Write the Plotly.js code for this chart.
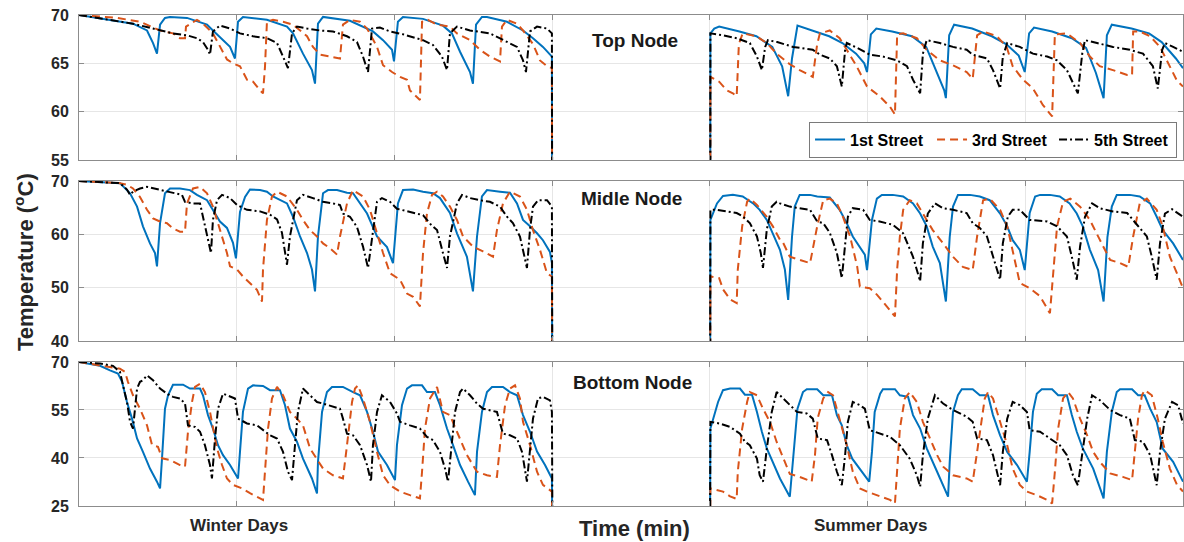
<!DOCTYPE html>
<html><head><meta charset="utf-8">
<script src="https://cdn.plot.ly/plotly-3.0.1.min.js"></script>
<style>html,body{margin:0;padding:0;background:#fff}#chart{width:1184px;height:542px}</style>
</head><body><div id="chart"></div>
<script>
// ---- data: [time (min), temperature (°C)] ----
const streets = ['1st Street','3rd Street','5th Street'];
const nodes = ['Top Node','Midle Node','Bottom Node'];
const periods = ['Winter Days','Summer Days'];
const yTicks = [[55,60,65,70],[40,50,60,70],[25,40,55,70]];

const topBlueWinter = [[0,70],[493,69.1],[621,68.4],[676,67.1],[712,66.0],[740,69.0],[785,69.7],[831,69.8],[986,69.7],[1169,69.0],[1223,68.4],[1287,67.7],[1379,66.7],[1424,65.5],[1452,69.3],[1497,69.8],[1716,69.5],[1899,68.8],[1954,68.1],[2045,66.0],[2127,64.3],[2155,62.9],[2182,69.1],[2228,69.8],[2474,69.4],[2684,68.3],[2776,67.4],[2858,66.4],[2876,65.2],[2912,69.3],[2958,69.8],[3141,69.6],[3323,68.9],[3405,68.1],[3479,66.2],[3570,64.1],[3597,62.9],[3625,69.0],[3679,69.8],[3725,69.8],[3908,69.3],[4054,68.4],[4145,67.6],[4236,66.7],[4318,65.7],[4325,0]];
const topBlueSummer = [[5760,0],[5765,68.1],[5800,68.6],[5845,68.8],[6030,68.3],[6185,67.8],[6330,66.7],[6420,64.7],[6475,61.6],[6510,65.5],[6560,68.9],[6695,68.4],[6850,67.8],[6970,67.1],[7095,66.0],[7170,65.0],[7195,64.1],[7230,68.0],[7280,68.6],[7425,68.3],[7605,67.8],[7735,66.7],[7825,64.3],[7900,62.2],[7915,61.4],[7945,67.9],[7990,69.0],[8155,68.6],[8335,67.8],[8465,67.0],[8580,65.8],[8635,64.1],[8675,68.1],[8720,68.7],[8885,68.3],[9065,67.6],[9195,66.6],[9285,64.0],[9355,61.4],[9385,67.9],[9430,69.0],[9610,68.6],[9770,68.1],[9885,67.2],[10015,65.5],[10080,64.5]];
const topOrangeWinter = [[0,70],[347,69.7],[557,69.3],[740,68.4],[858,68.1],[922,67.6],[968,67.6],[977,68.8],[1077,69.5],[1132,69.1],[1223,68.1],[1287,66.7],[1351,65.4],[1406,65.0],[1470,64.7],[1534,63.3],[1589,63.1],[1653,62.2],[1680,61.9],[1698,64.6],[1716,69.3],[1771,69.5],[1863,69.3],[1954,69.0],[2018,68.4],[2082,67.8],[2136,66.7],[2200,65.9],[2292,65.7],[2383,65.5],[2410,69.0],[2474,69.5],[2566,69.3],[2630,68.6],[2721,66.7],[2776,64.8],[2858,64.1],[2931,63.6],[2995,63.3],[3022,62.2],[3113,61.2],[3132,69.3],[3186,69.5],[3269,69.0],[3387,68.8],[3451,68.1],[3570,67.4],[3661,66.4],[3752,65.7],[3844,65.2],[3862,68.8],[3908,69.5],[3999,69.1],[4054,68.4],[4145,67.0],[4209,65.3],[4273,64.7],[4318,64.5],[4325,0]];
const topOrangeSummer = [[5760,0],[5765,63.6],[5845,63.1],[5915,62.2],[5970,61.9],[6005,61.6],[6025,67.0],[6060,68.1],[6185,67.8],[6280,67.1],[6370,66.0],[6400,65.7],[6490,64.9],[6580,64.3],[6700,63.6],[6740,67.0],[6765,68.1],[6855,68.4],[6945,67.6],[7010,66.4],[7100,64.7],[7195,62.6],[7310,61.6],[7405,60.5],[7450,59.7],[7470,68.0],[7525,68.1],[7650,67.6],[7740,66.4],[7860,65.3],[7980,64.8],[8105,64.1],[8160,63.4],[8200,67.9],[8255,68.3],[8380,67.8],[8470,66.7],[8525,64.7],[8620,63.3],[8710,62.4],[8800,60.7],[8885,59.5],[8910,68.0],[9020,68.1],[9140,67.1],[9230,65.7],[9320,64.7],[9440,64.3],[9570,63.8],[9615,63.8],[9625,68.3],[9685,68.3],[9780,67.8],[9870,66.7],[9935,65.2],[10025,63.2],[10080,62.6]];
const topBlackWinter = [[0,70],[493,69.1],[676,68.6],[858,68.1],[986,67.9],[1077,67.6],[1132,67.2],[1178,66.4],[1196,65.9],[1223,68.3],[1287,68.9],[1379,68.6],[1470,68.1],[1589,67.8],[1716,67.6],[1808,67.1],[1863,65.7],[1908,64.5],[1945,68.1],[1990,68.8],[2082,68.6],[2200,68.4],[2319,68.3],[2447,67.8],[2538,67.2],[2593,65.7],[2639,64.1],[2675,68.6],[2748,68.7],[2840,68.3],[2958,68.0],[3141,67.4],[3232,66.9],[3314,65.7],[3360,64.3],[3387,68.1],[3451,68.8],[3570,68.4],[3752,68.1],[3871,67.4],[3999,66.7],[4054,65.3],[4081,64.1],[4118,68.3],[4182,68.8],[4273,68.6],[4318,68.1],[4325,0]];
const topBlackSummer = [[5760,0],[5765,68.1],[5880,67.9],[6005,67.6],[6125,67.1],[6190,65.7],[6235,64.3],[6265,66.7],[6290,67.4],[6375,67.2],[6520,66.7],[6700,66.4],[6765,65.9],[6855,65.5],[6920,64.7],[6965,62.6],[6995,66.4],[7010,67.1],[7105,66.6],[7220,65.9],[7340,65.7],[7470,65.3],[7560,64.7],[7615,63.3],[7680,61.9],[7705,66.0],[7740,67.4],[7860,67.1],[7980,66.7],[8105,66.4],[8160,65.9],[8290,65.5],[8345,64.3],[8410,62.4],[8435,65.7],[8475,67.1],[8590,66.7],[8710,66.0],[8840,65.7],[8930,65.3],[9020,64.3],[9075,62.9],[9120,61.9],[9160,66.0],[9185,67.4],[9295,67.1],[9440,66.7],[9595,66.4],[9715,66.0],[9805,64.7],[9850,62.4],[9890,66.4],[9915,67.1],[9990,66.7],[10080,66.2]];

const midBlueWinter = [[0,70],[374,69.6],[466,67.7],[530,65.2],[584,61.5],[648,58.3],[694,56.5],[712,54.0],[740,62.1],[785,67.7],[831,68.6],[922,68.6],[1013,68.3],[1077,67.4],[1169,66.4],[1223,64.6],[1287,62.4],[1351,61.2],[1406,58.4],[1433,55.5],[1470,64.2],[1516,67.0],[1561,68.4],[1653,68.3],[1716,68.0],[1771,67.1],[1899,65.8],[1954,63.3],[2018,59.6],[2082,56.5],[2127,53.4],[2155,49.3],[2182,59.6],[2228,67.7],[2273,68.3],[2356,68.3],[2447,67.8],[2502,67.7],[2566,65.8],[2630,63.9],[2721,59.6],[2812,57.6],[2867,54.6],[2912,65.8],[2958,68.3],[3050,68.4],[3141,68.0],[3232,67.7],[3296,66.8],[3387,64.0],[3451,60.2],[3542,55.8],[3597,49.3],[3634,59.6],[3679,67.1],[3725,68.3],[3844,68.0],[3935,67.8],[3999,65.8],[4054,62.7],[4118,61.5],[4182,60.2],[4236,58.9],[4300,56.7],[4318,54.6],[4325,0]];
const midBlueSummer = [[5760,0],[5765,62.7],[5825,65.8],[5880,67.2],[5970,67.4],[6060,67.1],[6155,65.8],[6215,64.6],[6280,62.7],[6335,60.2],[6400,57.1],[6445,53.4],[6475,47.7],[6510,59.5],[6535,65.2],[6580,67.4],[6675,67.4],[6740,67.1],[6855,66.9],[6945,64.6],[7010,62.1],[7065,59.6],[7130,57.7],[7175,56.2],[7195,53.3],[7240,62.7],[7285,66.7],[7330,67.4],[7430,67.4],[7525,67.1],[7615,65.8],[7680,63.9],[7740,61.5],[7795,57.7],[7860,54.6],[7915,47.4],[7950,59.5],[7980,65.2],[8025,67.4],[8135,67.4],[8225,67.1],[8315,66.4],[8410,63.9],[8475,61.5],[8525,58.9],[8590,57.1],[8635,53.3],[8680,64.0],[8730,67.1],[8775,67.4],[8865,67.4],[8955,67.1],[9045,65.8],[9110,63.9],[9165,61.5],[9230,57.1],[9305,53.3],[9355,47.4],[9390,59.5],[9430,65.2],[9475,67.4],[9595,67.4],[9685,67.1],[9780,65.8],[9840,63.3],[9895,60.8],[9990,58.3],[10080,55.2]];
const midOrangeWinter = [[0,70],[374,69.6],[438,69.3],[493,68.6],[557,67.0],[621,64.6],[676,63.0],[740,62.4],[803,62.1],[858,61.1],[922,60.5],[968,60.5],[986,65.8],[1041,68.6],[1105,68.9],[1169,67.7],[1223,65.2],[1287,60.8],[1351,56.5],[1379,54.0],[1443,53.4],[1497,52.1],[1561,50.9],[1625,49.6],[1671,47.4],[1680,53.4],[1716,62.7],[1762,67.1],[1808,68.0],[1899,67.1],[1990,64.6],[2045,62.7],[2109,60.8],[2173,59.6],[2228,58.3],[2292,57.4],[2356,56.2],[2383,59.6],[2447,65.8],[2502,68.3],[2593,67.1],[2657,64.6],[2721,60.2],[2776,56.5],[2840,52.7],[2931,51.5],[2995,48.9],[3050,48.3],[3113,46.5],[3141,56.5],[3177,63.9],[3223,67.4],[3269,68.0],[3323,67.1],[3387,65.2],[3451,62.7],[3506,59.6],[3597,57.7],[3689,56.8],[3780,55.8],[3816,60.8],[3871,65.8],[3935,68.0],[4026,67.1],[4090,64.6],[4145,60.8],[4209,57.1],[4273,52.7],[4318,52.1],[4325,0]];
const midOrangeSummer = [[5760,0],[5765,52.1],[5845,51.8],[5880,49.7],[5945,47.8],[6005,47.1],[6015,53.4],[6055,61.5],[6100,66.1],[6125,66.7],[6190,65.5],[6280,63.3],[6335,61.5],[6400,59.0],[6425,58.6],[6490,55.8],[6580,55.2],[6675,54.6],[6740,61.5],[6795,66.4],[6855,66.7],[6920,65.8],[6975,63.3],[7040,59.6],[7105,54.0],[7130,50.2],[7220,49.9],[7285,48.7],[7375,46.5],[7450,44.6],[7470,53.4],[7495,59.6],[7525,64.6],[7585,66.4],[7650,65.8],[7705,63.9],[7795,60.8],[7890,58.3],[7980,55.8],[8070,53.9],[8160,53.3],[8200,59.6],[8255,66.4],[8315,66.7],[8410,64.6],[8475,61.5],[8525,57.1],[8590,50.9],[8680,49.9],[8775,48.4],[8865,45.2],[8895,53.4],[8930,61.5],[8985,66.1],[9050,66.7],[9140,65.2],[9230,62.7],[9320,59.0],[9415,55.2],[9505,54.6],[9580,53.9],[9625,59.6],[9685,65.8],[9750,66.7],[9840,64.6],[9895,61.5],[9960,55.8],[10025,52.7],[10080,49.9]];
const midBlackWinter = [[0,70],[374,69.6],[438,68.4],[466,67.4],[493,68.0],[557,68.6],[621,68.9],[740,68.3],[858,67.7],[940,67.4],[968,66.1],[1041,65.8],[1105,65.8],[1132,63.3],[1178,59.6],[1205,56.5],[1223,62.7],[1260,66.4],[1306,67.4],[1379,66.8],[1443,65.5],[1534,64.6],[1653,64.3],[1744,63.7],[1808,62.8],[1853,60.3],[1899,54.3],[1926,59.6],[1990,66.4],[2045,67.4],[2136,66.8],[2228,66.1],[2319,65.8],[2383,65.5],[2410,63.9],[2474,63.3],[2538,61.4],[2593,57.7],[2639,53.7],[2675,59.6],[2721,66.1],[2766,66.8],[2840,66.1],[2903,64.8],[3022,64.2],[3141,63.6],[3205,62.0],[3269,60.8],[3323,56.5],[3360,53.7],[3387,59.6],[3451,65.8],[3497,67.4],[3570,66.8],[3661,66.4],[3752,66.1],[3844,65.2],[3908,63.3],[3962,62.1],[4026,59.6],[4090,53.7],[4118,60.9],[4145,65.2],[4191,66.4],[4273,66.4],[4318,65.2],[4325,0]];
const midBlackSummer = [[5760,0],[5765,64.6],[5825,64.6],[5915,64.3],[6005,64.0],[6060,63.4],[6125,62.1],[6190,59.6],[6225,56.5],[6245,53.7],[6280,60.9],[6325,65.2],[6370,66.1],[6400,65.8],[6490,65.2],[6580,64.9],[6675,64.6],[6740,62.4],[6795,62.1],[6855,60.3],[6920,56.5],[6965,51.8],[6995,58.3],[7020,63.3],[7065,64.9],[7160,64.6],[7220,62.7],[7310,62.4],[7430,61.8],[7525,60.2],[7615,55.8],[7680,51.2],[7705,58.3],[7750,63.9],[7815,65.8],[7890,64.9],[7980,64.6],[8105,64.0],[8160,62.1],[8225,61.2],[8290,59.6],[8345,55.8],[8410,51.5],[8435,58.3],[8480,63.3],[8525,64.6],[8590,64.6],[8680,62.7],[8840,62.4],[8930,61.5],[9020,59.6],[9065,55.8],[9110,51.5],[9140,57.7],[9185,63.3],[9250,65.8],[9320,64.9],[9440,64.3],[9570,64.0],[9660,61.8],[9750,59.6],[9795,55.8],[9840,51.5],[9870,58.3],[9915,63.9],[9980,64.7],[10080,63.3]];

const botBlueWinter = [[0,70],[192,68.8],[283,67.4],[356,66.4],[393,63.8],[438,57.5],[484,52.3],[530,46.1],[584,41.9],[648,36.7],[712,32.6],[740,30.5],[758,39.9],[785,55.4],[813,59.6],[858,62.9],[950,62.9],[1013,61.7],[1105,61.7],[1132,59.6],[1178,53.4],[1223,49.2],[1269,44.0],[1315,40.9],[1379,37.8],[1452,33.6],[1470,42.0],[1497,54.4],[1543,61.7],[1589,62.7],[1680,62.5],[1744,61.2],[1835,61.2],[1881,56.5],[1926,49.2],[1990,45.1],[2045,39.8],[2127,33.6],[2173,28.9],[2182,38.8],[2219,54.4],[2264,60.6],[2310,62.2],[2410,62.2],[2502,60.6],[2566,59.6],[2630,54.4],[2684,48.2],[2730,42.0],[2812,37.8],[2885,33.1],[2903,44.0],[2949,56.5],[2995,61.7],[3040,62.7],[3132,62.7],[3177,60.6],[3250,60.6],[3296,56.5],[3360,49.2],[3415,44.0],[3479,37.8],[3552,32.6],[3615,28.4],[3634,41.9],[3679,54.4],[3725,60.6],[3771,62.2],[3871,62.2],[3935,60.6],[3999,59.6],[4054,53.4],[4118,48.2],[4182,42.0],[4255,37.8],[4318,33.6],[4325,0]];
const botBlueSummer = [[5760,0],[5765,49.2],[5835,57.5],[5880,61.2],[5945,61.7],[6035,61.7],[6080,59.8],[6145,59.8],[6190,54.4],[6235,48.2],[6280,43.0],[6335,38.8],[6400,33.6],[6490,27.9],[6520,38.8],[6560,55.4],[6610,60.6],[6645,61.5],[6740,61.5],[6795,59.6],[6875,59.6],[6920,53.4],[6965,50.2],[7010,44.0],[7060,39.8],[7130,36.7],[7215,32.6],[7240,41.9],[7265,54.4],[7315,60.1],[7340,61.5],[7450,61.5],[7495,59.6],[7570,59.1],[7615,53.4],[7680,49.2],[7740,43.0],[7835,35.7],[7935,27.9],[7950,38.8],[7980,54.4],[8025,59.6],[8060,61.5],[8160,61.5],[8225,59.6],[8300,59.6],[8345,53.4],[8410,47.1],[8475,41.9],[8565,37.8],[8655,32.6],[8680,41.9],[8710,54.4],[8745,60.1],[8790,61.5],[8885,61.5],[8940,59.6],[9020,59.6],[9065,53.4],[9110,48.2],[9165,43.0],[9260,36.7],[9355,27.4],[9385,41.9],[9430,54.4],[9475,60.6],[9505,61.5],[9615,61.5],[9670,59.6],[9730,59.6],[9780,55.4],[9840,51.2],[9895,42.9],[9990,38.8],[10080,32.6]];
const botOrangeWinter = [[0,70],[192,69.0],[310,68.4],[374,67.9],[420,66.9],[447,63.8],[493,59.6],[557,55.4],[621,50.2],[667,44.0],[721,43.5],[758,39.9],[831,39.4],[922,37.8],[968,37.3],[995,48.2],[1032,57.5],[1059,62.2],[1105,63.2],[1150,60.6],[1196,54.4],[1260,43.0],[1306,37.8],[1351,33.6],[1406,31.6],[1488,30.5],[1561,29.0],[1680,26.9],[1698,35.7],[1726,49.2],[1762,58.6],[1808,62.2],[1863,59.6],[1926,54.4],[1990,52.3],[2045,50.2],[2109,43.0],[2173,39.8],[2228,36.7],[2319,34.6],[2410,33.6],[2447,44.0],[2493,57.5],[2520,61.7],[2547,62.7],[2593,58.6],[2657,51.3],[2721,41.9],[2776,34.6],[2840,31.5],[2931,29.5],[3022,28.4],[3113,27.4],[3132,35.7],[3159,49.2],[3205,58.6],[3269,62.2],[3323,54.4],[3387,53.4],[3451,48.2],[3542,40.9],[3634,35.7],[3725,34.6],[3816,34.1],[3844,44.0],[3890,56.5],[3935,61.7],[3981,62.7],[4026,58.6],[4054,51.3],[4118,44.0],[4182,35.7],[4236,31.6],[4318,29.5],[4325,0]];
const botOrangeSummer = [[5760,0],[5765,30.5],[5880,29.5],[5945,28.0],[6005,27.2],[6015,35.7],[6055,49.2],[6100,57.5],[6125,60.6],[6190,59.6],[6245,55.4],[6310,51.2],[6370,45.0],[6430,40.0],[6490,35.0],[6580,34.1],[6690,32.6],[6720,41.0],[6745,52.5],[6795,58.6],[6840,60.6],[6885,59.6],[6950,51.3],[7010,44.0],[7065,35.7],[7130,30.5],[7195,29.5],[7285,28.4],[7405,26.9],[7450,25.8],[7470,35.7],[7495,49.2],[7540,58.6],[7585,60.6],[7650,57.5],[7705,51.3],[7770,46.1],[7835,40.9],[7890,37.3],[7980,34.6],[8105,33.6],[8160,32.6],[8200,41.9],[8245,52.3],[8270,58.6],[8300,60.6],[8345,58.6],[8410,51.3],[8475,44.0],[8525,36.7],[8590,31.6],[8655,29.5],[8745,28.4],[8840,26.9],[8885,25.8],[8910,35.7],[8940,49.2],[8985,58.6],[9030,60.6],[9075,58.6],[9140,52.3],[9205,47.1],[9260,41.9],[9320,38.8],[9415,35.2],[9530,34.1],[9615,33.1],[9640,41.9],[9670,52.3],[9705,59.6],[9730,61.2],[9795,59.6],[9850,52.3],[9895,45.1],[9960,36.7],[10025,31.6],[10080,29.5]];
const botBlackWinter = [[0,70],[192,69.5],[310,68.8],[374,66.9],[402,62.7],[438,57.5],[466,51.3],[493,49.2],[530,61.7],[557,63.8],[584,64.3],[621,65.8],[676,64.3],[740,61.7],[803,60.1],[858,59.1],[922,58.6],[968,57.0],[995,50.2],[1059,49.7],[1105,48.2],[1150,44.0],[1196,37.8],[1214,33.6],[1242,46.1],[1269,55.4],[1315,60.1],[1379,59.1],[1424,58.6],[1452,52.3],[1534,50.8],[1625,50.2],[1680,48.7],[1744,47.1],[1808,46.1],[1863,41.9],[1908,35.7],[1945,33.1],[1972,44.0],[1999,54.4],[2045,61.7],[2109,59.6],[2173,57.5],[2228,57.0],[2319,56.0],[2383,55.4],[2410,52.3],[2447,47.6],[2502,47.1],[2566,44.0],[2630,37.8],[2666,32.6],[2684,44.0],[2721,54.4],[2766,59.6],[2840,57.5],[2903,53.9],[2931,51.3],[3022,50.2],[3113,49.2],[3177,46.6],[3232,45.6],[3296,41.9],[3342,36.7],[3369,32.6],[3405,44.0],[3433,54.4],[3479,60.6],[3506,61.7],[3570,59.6],[3634,57.0],[3689,55.4],[3752,54.9],[3816,54.4],[3871,47.6],[3935,47.1],[3999,46.1],[4045,41.9],[4090,32.6],[4118,41.9],[4145,52.3],[4191,58.6],[4236,59.1],[4300,58.0],[4318,54.4],[4325,0]];
const botBlackSummer = [[5760,0],[5765,51.3],[5845,50.8],[5945,49.7],[6035,47.6],[6080,45.1],[6125,44.0],[6190,39.8],[6215,34.6],[6245,32.6],[6280,42.9],[6325,54.4],[6370,60.6],[6430,58.6],[6490,56.5],[6555,54.4],[6645,53.9],[6700,52.3],[6745,46.1],[6830,45.6],[6875,40.9],[6920,35.7],[6965,31.5],[6995,40.9],[7020,51.3],[7065,57.5],[7130,56.5],[7175,55.4],[7220,48.7],[7310,47.6],[7405,46.6],[7495,44.0],[7585,39.8],[7650,34.6],[7680,31.0],[7705,40.9],[7750,52.3],[7815,59.6],[7890,57.0],[7980,55.0],[8105,52.9],[8160,51.3],[8200,46.1],[8290,45.6],[8345,40.9],[8410,31.5],[8435,41.9],[8475,52.3],[8525,57.5],[8590,56.5],[8655,54.4],[8680,48.7],[8775,48.2],[8865,46.1],[8955,44.0],[9020,40.9],[9075,34.6],[9120,31.5],[9160,40.9],[9205,52.3],[9250,59.6],[9320,58.1],[9415,55.0],[9505,53.4],[9595,52.3],[9640,45.6],[9715,45.1],[9780,40.9],[9840,31.5],[9870,41.9],[9915,52.3],[9980,57.5],[10035,56.5],[10080,50.8]];

// ---- chart ----
const panels = [
  [[topBlueWinter, topBlueSummer], [topOrangeWinter, topOrangeSummer], [topBlackWinter, topBlackSummer]],
  [[midBlueWinter, midBlueSummer], [midOrangeWinter, midOrangeSummer], [midBlackWinter, midBlackSummer]],
  [[botBlueWinter, botBlueSummer], [botOrangeWinter, botOrangeSummer], [botBlackWinter, botBlackSummer]]
];
const colors = ['#0072BD', '#D95319', '#000000'];
const dashes = ['solid', '8px,5px', '8px,3px,2px,3px'];
const yRanges = [[55,70],[40,70],[25,70]];
const domains = [[0.7047,1],[0.3360,0.6619],[0,0.2933]];

const traces = [];
panels.forEach((panel, p) => {
  panel.forEach(([win, sum], k) => {
    const x = win.map(d => d[0]).concat([null], sum.map(d => d[0]));
    const y = win.map(d => d[1]).concat([null], sum.map(d => d[1]));
    traces.push({
      type: 'scatter', mode: 'lines', x, y, name: streets[k],
      xaxis: p ? 'x' + (p + 1) : 'x', yaxis: p ? 'y' + (p + 1) : 'y',
      line: {color: colors[k], width: 2, dash: dashes[k]},
      showlegend: p === 0, legendgroup: streets[k], connectgaps: false,
      hoverinfo: 'skip'
    });
  });
});

const tickFont = {family: 'Liberation Sans, Arial, sans-serif', size: 16, color: '#262626', weight: 'bold'};
const layout = {
  width: 1184, height: 542,
  margin: {l: 79, r: 1, t: 15, b: 36},
  paper_bgcolor: '#ffffff', plot_bgcolor: '#ffffff',
  font: {family: 'Liberation Sans, Arial, sans-serif', color: '#262626'},
  showlegend: true,
  legend: {orientation: 'h', x: 0.9946, xanchor: 'right', y: 0.783, yanchor: 'top',
    bgcolor: '#ffffff', bordercolor: '#7a7a7a', borderwidth: 1,
    entrywidth: 77, entrywidthmode: 'pixels', itemwidth: 30, tracegroupgap: 0,
    font: {family: 'Liberation Sans, Arial, sans-serif', size: 16, color: '#000000', weight: 'bold'},
    traceorder: 'normal'},
  annotations: [],
  hovermode: false
};
for (let p = 0; p < 3; p++) {
  const sfx = p ? String(p + 1) : '';
  layout['xaxis' + sfx] = {
    domain: [0, 1], anchor: 'y' + sfx, range: [0, 10080], tick0: 0, dtick: 1440,
    showticklabels: false, ticks: 'inside', ticklen: 5, tickcolor: '#8c8c8c',
    showgrid: true, gridcolor: '#e6e6e6', gridwidth: 1, zeroline: false,
    showline: true, linecolor: '#8c8c8c', linewidth: 1, mirror: 'ticks'
  };
  layout['yaxis' + sfx] = {
    domain: domains[p], anchor: 'x' + sfx, range: yRanges[p], tickvals: yTicks[p],
    tickfont: tickFont, ticks: 'inside', ticklen: 5, tickcolor: '#8c8c8c', ticklabelstandoff: 6,
    showgrid: true, gridcolor: '#e6e6e6', gridwidth: 1, zeroline: false,
    showline: true, linecolor: '#8c8c8c', linewidth: 1, mirror: 'ticks'
  };
}
const titleFont = {family: 'Liberation Sans, Arial, sans-serif', size: 19, color: '#1a1a1a', weight: 'bold'};
const nodePos = [[0.5036, 0.949], [0.5009, 0.627], [0.5018, 0.2525]];
nodes.forEach((n, i) => layout.annotations.push({
  text: n, xref: 'paper', yref: 'paper', x: nodePos[i][0], y: nodePos[i][1],
  xanchor: 'center', yanchor: 'middle', showarrow: false, font: titleFont
}));
const periodX = [0.1449, 0.7165];
periods.forEach((t, i) => layout.annotations.push({
  text: t, xref: 'paper', yref: 'paper', x: periodX[i], y: -0.0387,
  xanchor: 'center', yanchor: 'middle', showarrow: false,
  font: {family: 'Liberation Sans, Arial, sans-serif', size: 17, color: '#262626', weight: 'bold'}
}));
layout.annotations.push({
  text: 'Time (min)', xref: 'paper', yref: 'paper', x: 0.5036, y: -0.0468,
  xanchor: 'center', yanchor: 'middle', showarrow: false,
  font: {family: 'Liberation Sans, Arial, sans-serif', size: 22, color: '#262626', weight: 'bold'}
});
layout.annotations.push({
  text: 'Temperature (<sup>o</sup>C)', xref: 'paper', yref: 'paper', x: -0.0498, y: 0.497,
  xanchor: 'center', yanchor: 'middle', textangle: -90, showarrow: false,
  font: {family: 'Liberation Sans, Arial, sans-serif', size: 22, color: '#262626', weight: 'bold'}
});

Plotly.newPlot('chart', traces, layout, {displayModeBar: false, staticPlot: true});
</script>
</body></html>
